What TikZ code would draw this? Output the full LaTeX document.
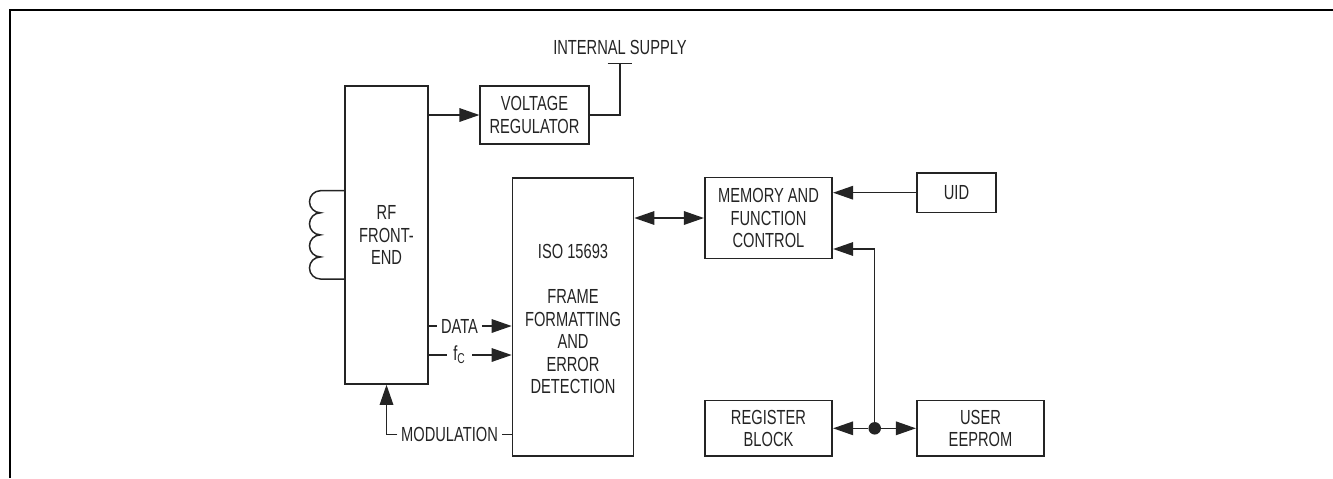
\documentclass[tikz,border=0pt]{standalone}
\usepackage{fontspec}
\setmainfont[FakeStretch=0.72]{Liberation Sans}
\usepackage{tikz}
\usetikzlibrary{arrows.meta, positioning, calc}
\definecolor{inkgray}{gray}{0.14}
\tikzset{
  blockbox/.style={
    draw=inkgray, line width=0.32mm, align=center, inner sep=0pt,
    text=inkgray, font=\fontsize{11.6}{12.8}\selectfont
  },
  siglabel/.style={
    inner sep=2pt, text=inkgray, font=\fontsize{11.6}{12.8}\selectfont
  },
  sigline/.style={draw=inkgray, line width=0.3mm},
  sigarrow/.style={sigline, -{Triangle[length=4mm,width=2.7mm]}},
  sigboth/.style={sigline, {Triangle[length=4mm,width=2.7mm]}-{Triangle[length=4mm,width=2.7mm]}},
}
\begin{document}
\begin{tikzpicture}[x=0.2mm, y=-0.2mm]
  \useasboundingbox (0,0) rectangle (1333,478);
  % outer frame
  \draw[line width=0.4mm] (10,478) -- (10,10) -- (1333,10);

  % blocks
  \node[blockbox, minimum width=16.6mm, minimum height=59.6mm] (rf) at (386.5,235) {RF\\FRONT-\\END};
  \node[blockbox, minimum width=21.7mm, minimum height=11.7mm] (vreg) at (534.5,115) {VOLTAGE\\REGULATOR};
  \node[blockbox, minimum width=24.2mm, minimum height=55.7mm] (iso) at (573,317) {\rule{0pt}{10.6pt}ISO 15693\\[12.8pt]FRAME\\FORMATTING\\AND\\ERROR\\DETECTION};
  \node[blockbox, minimum width=25.5mm, minimum height=16.2mm] (mem) at (768.5,218) {MEMORY AND\\FUNCTION\\CONTROL};
  \node[blockbox, minimum width=15.9mm, minimum height=7.9mm] (uid) at (956.5,192.7) {UID};
  \node[blockbox, minimum width=25.5mm, minimum height=11.1mm] (reg) at (768.5,428.3) {REGISTER\\BLOCK};
  \node[blockbox, minimum width=25.5mm, minimum height=11.1mm] (eeprom) at (980.5,428.3) {USER\\EEPROM};

  % supply
  \node[siglabel] (supply) at (620,47.7) {INTERNAL SUPPLY};
  \coordinate (supplytop) at (620,63.7);
  \draw[sigarrow] (rf.east|-vreg) -- (vreg);
  \draw[sigline] (vreg) -| (supplytop);
  \draw[sigline] (607.7,63.7) -- (632,63.7);

  % signals between rf and iso
  \node[siglabel] (datalabel) at (459.5,326) {DATA};
  \node[siglabel, inner xsep=3.5pt] (fclabel) at (459.5,355) {f\textsubscript{C}};
  \node[siglabel] (modlabel) at (449.5,434.3) {MODULATION};
  \draw[sigline] (rf.east|-datalabel) -- (datalabel);
  \draw[sigarrow] (datalabel) -- (iso.west|-datalabel);
  \draw[sigline] (rf.east|-fclabel) -- (fclabel);
  \draw[sigarrow] (fclabel) -- (iso.west|-fclabel);
  \draw[sigline] (iso.west|-modlabel) -- (modlabel);
  \draw[sigarrow] (modlabel) -| (rf.south);

  % memory connections
  \draw[sigboth] (iso.east|-mem) -- (mem);
  \draw[sigarrow] (uid) -- (mem.east|-uid);
  \node[circle, fill=inkgray, inner sep=0pt, minimum size=2.5mm] (junction) at (874.7,428.3) {};
  \draw[sigarrow] (junction) |- (mem.east|-0,249);
  \draw[sigarrow] (junction) -- (reg);
  \draw[sigarrow] (junction) -- (eeprom);

  % antenna coil
  \draw[sigline] (rf.west|-0,190.7) -- (320.5,190.7)
    \foreach \turn in {1,...,4} {arc[start angle=270, end angle=90, radius=11.04]}
    -- (rf.west|-0,279);
\end{tikzpicture}
\end{document}
